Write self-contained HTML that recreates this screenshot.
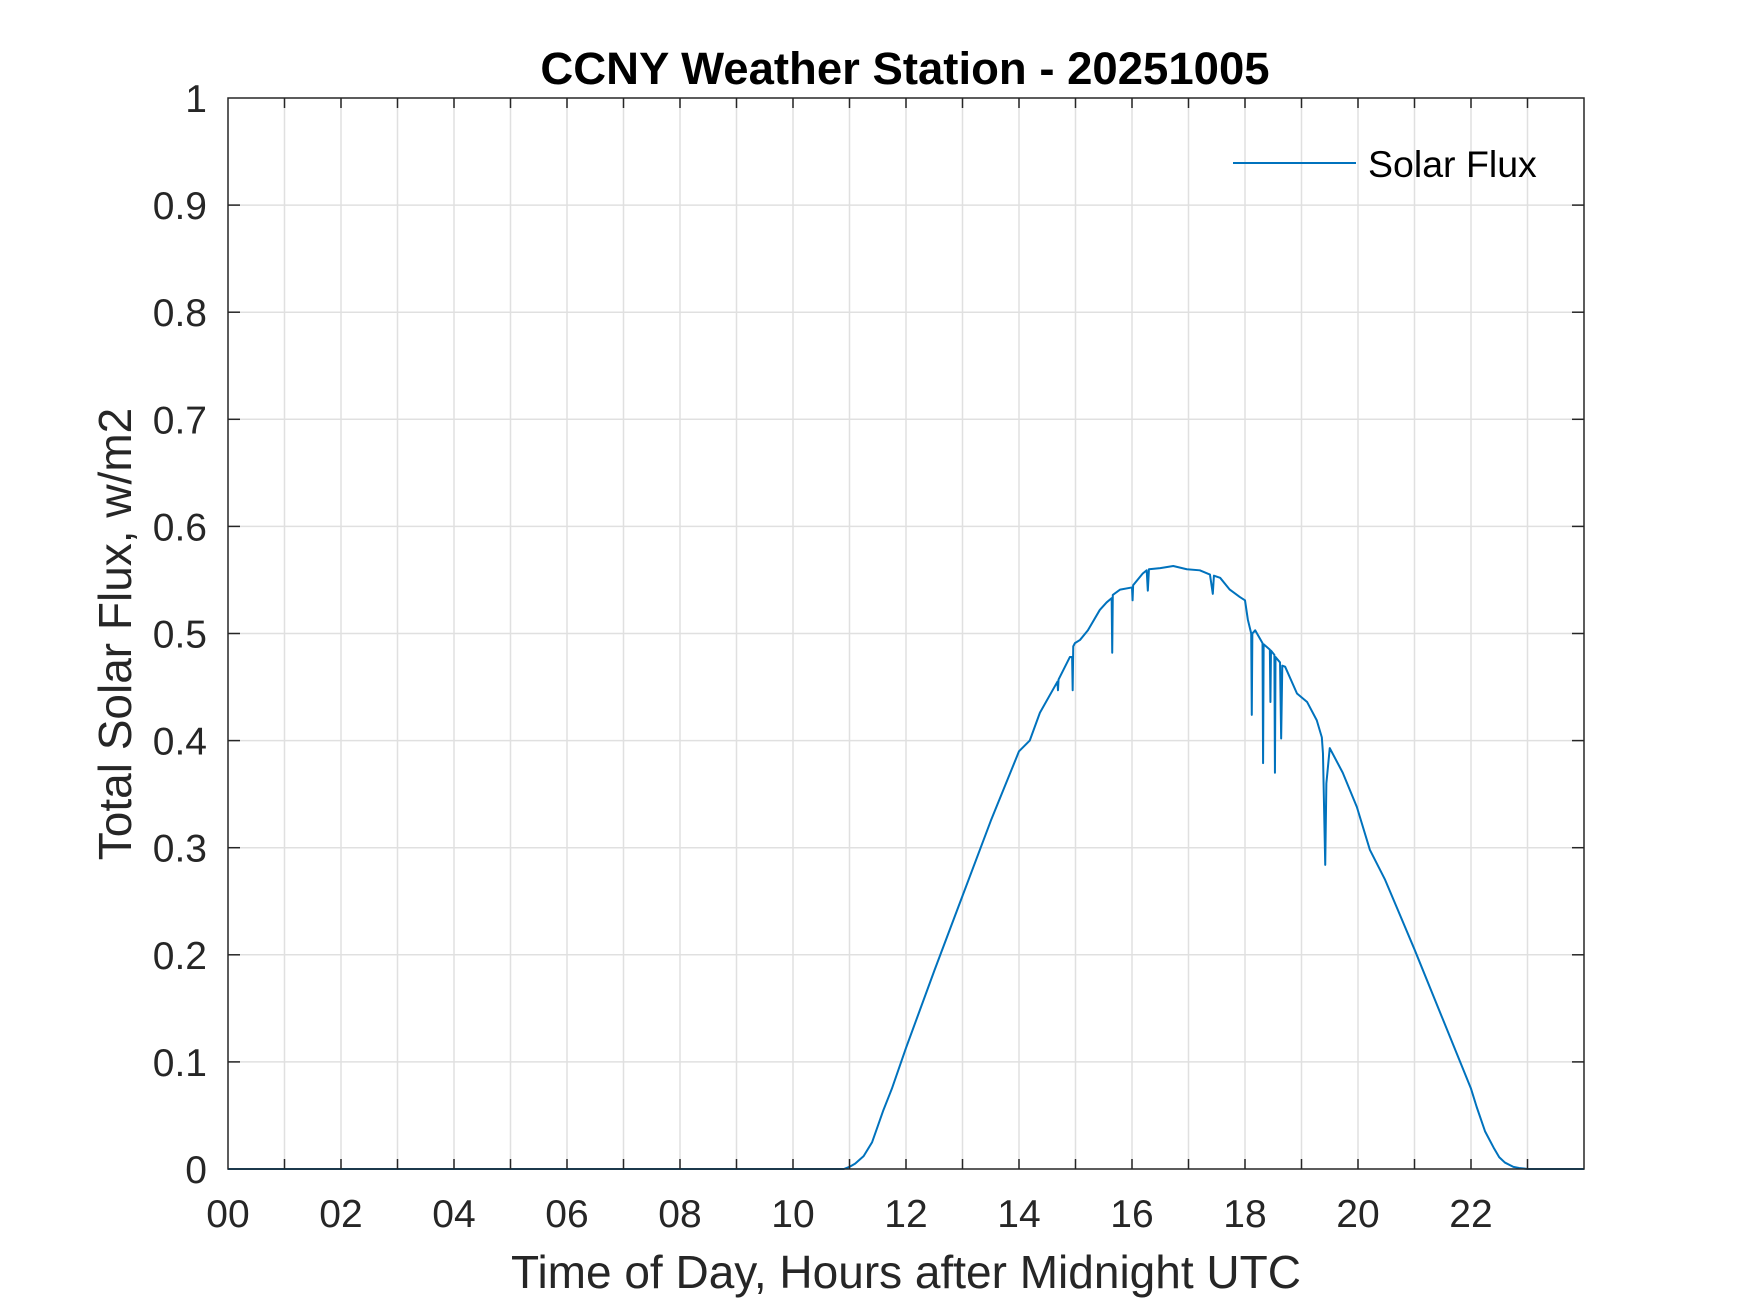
<!DOCTYPE html>
<html><head><meta charset="utf-8"><style>
html,body{margin:0;padding:0;background:#fff;}
svg{display:block;font-family:"Liberation Sans",Arial,sans-serif;}
</style></head><body>
<svg id="chart" width="1750" height="1313" viewBox="0 0 1750 1313" xmlns="http://www.w3.org/2000/svg">
<rect x="0" y="0" width="1750" height="1313" fill="#fff"/>
<g id="grid"></g>
<g id="series"></g>
<g id="axes"></g>
<text x="905" y="84" text-anchor="middle" font-size="45.5" font-weight="bold" fill="#000">CCNY Weather Station - 20251005</text>
<text x="906" y="1288" text-anchor="middle" font-size="46" fill="#262626">Time of Day, Hours after Midnight UTC</text>
<text transform="translate(131,634) rotate(-90)" text-anchor="middle" font-size="46" fill="#262626">Total Solar Flux, w/m2</text>
<g>
<line x1="1233" y1="163" x2="1356" y2="163" stroke="#0072BD" stroke-width="2"/>
<text x="1368" y="177" font-size="37.5" fill="#000">Solar Flux</text>
</g>
</svg>
<script>
const hours = [0,10.9,11.0,11.1,11.25,11.4,11.5,11.6,11.75,12,12.5,13,13.5,14,14.19,14.37,14.68,14.69,14.7,14.9,14.94,14.95,14.96,14.99,15.08,15.22,15.43,15.55,15.64,15.65,15.66,15.79,16.0,16.01,16.02,16.19,16.26,16.28,16.3,16.5,16.73,16.97,17.2,17.38,17.43,17.45,17.56,17.73,17.91,18.0,18.05,18.11,18.12,18.13,18.18,18.31,18.32,18.33,18.44,18.45,18.46,18.52,18.53,18.54,18.62,18.64,18.66,18.71,18.92,19.1,19.27,19.36,19.38,19.42,19.44,19.5,19.73,19.98,20.21,20.48,21,21.5,22,22.1,22.25,22.4,22.5,22.6,22.75,22.85,23,24];
const flux  = [0,0,0.002,0.005,0.012,0.025,0.04,0.055,0.075,0.113,0.185,0.255,0.325,0.39,0.40,0.426,0.455,0.447,0.457,0.478,0.478,0.447,0.488,0.491,0.494,0.503,0.522,0.529,0.533,0.482,0.536,0.541,0.543,0.531,0.545,0.556,0.559,0.54,0.56,0.561,0.563,0.560,0.559,0.555,0.537,0.554,0.552,0.541,0.534,0.531,0.513,0.50,0.424,0.50,0.503,0.491,0.379,0.49,0.485,0.436,0.484,0.48,0.37,0.478,0.473,0.402,0.47,0.469,0.444,0.436,0.419,0.403,0.388,0.284,0.36,0.393,0.37,0.338,0.298,0.27,0.205,0.14,0.075,0.058,0.035,0.02,0.011,0.006,0.002,0.001,0,0];
const xTickValues = [0,2,4,6,8,10,12,14,16,18,20,22];
const xTickLabels = ["00","02","04","06","08","10","12","14","16","18","20","22"];
const yTickValues = [0,0.1,0.2,0.3,0.4,0.5,0.6,0.7,0.8,0.9,1];
const yTickLabels = ["0","0.1","0.2","0.3","0.4","0.5","0.6","0.7","0.8","0.9","1"];

const L=228,R=1584,T=98,B=1169;
function xs(h){return L+(h/24)*(R-L);}
function ys(v){return B-(v/1)*(B-T);}
const NS="http://www.w3.org/2000/svg";
function mk(tag,attrs,parent){const e=document.createElementNS(NS,tag);for(const k in attrs)e.setAttribute(k,attrs[k]);parent.appendChild(e);return e;}
const grid=document.getElementById('grid'),axes=document.getElementById('axes'),series=document.getElementById('series');
for(let h=1;h<24;h++){
  const g=mk('line',{x1:xs(h),x2:xs(h),y1:T,y2:B,stroke:'#e0e0e0','stroke-width':1.5},grid);
  
  
  for(const [a,b] of [[B,B-10],[T,T+10]]){
    const t=mk('line',{x1:xs(h),x2:xs(h),y1:a,y2:b,stroke:'#262626','stroke-width':1.5},axes);
    
    
  }
}
yTickValues.forEach((v,i)=>{
  if(v>0&&v<1){
    const g=mk('line',{x1:L,x2:R,y1:ys(v),y2:ys(v),stroke:'#e0e0e0','stroke-width':1.5},grid);
    
    
    for(const [a,b] of [[L,L+12],[R,R-12]]){
      const t=mk('line',{x1:a,x2:b,y1:ys(v),y2:ys(v),stroke:'#262626','stroke-width':1.5},axes);
      
      
    }
  }
  const lb=mk('text',{x:207,y:ys(v)+14,'text-anchor':'end','font-size':39,fill:'#262626'},axes);
  lb.textContent=yTickLabels[i];
  
  
});
xTickValues.forEach((h,i)=>{
  const lb=mk('text',{x:xs(h),y:1227,'text-anchor':'middle','font-size':39,fill:'#262626'},axes);
  lb.textContent=xTickLabels[i];
  
  
});
const box=mk('rect',{x:L,y:T,width:R-L,height:B-T,fill:'none',stroke:'#262626','stroke-width':1.5},axes);


let d='';
hours.forEach((h,i)=>{d+=(i?'L':'M')+xs(h).toFixed(2)+' '+ys(flux[i]).toFixed(2);});
const p=mk('path',{d:d,fill:'none',stroke:'#0072BD','stroke-width':2,'stroke-linejoin':'round'},series);


</script>
</body></html>
